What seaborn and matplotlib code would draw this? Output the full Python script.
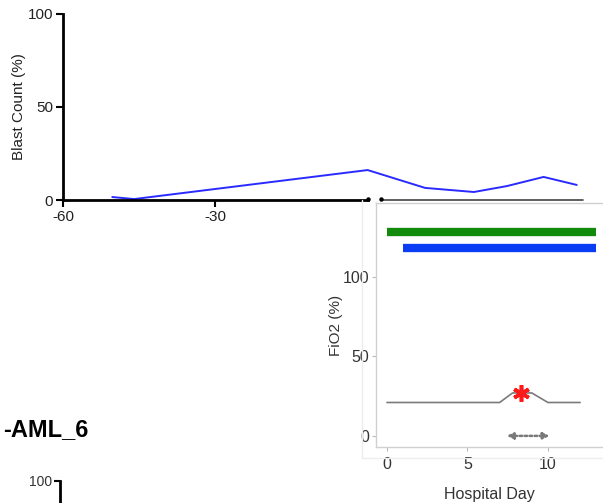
import numpy as np
import pandas as pd
import matplotlib
matplotlib.use("Agg")
import matplotlib.pyplot as plt
from matplotlib.lines import Line2D
import seaborn as sns

# blast count, days relative to admission (pre-admission compressed on left)
blast_day = [-50.3, -46, 0, 3.3, 6.1, 8, 10.1, 12]
blast_pct = [1.6, 0.5, 16.1, 6.5, 4.3, 7.5, 12.4, 8.1]

# FiO2 over hospital days
fio2_day = [0, 7, 7.8, 9, 10, 12]
fio2_pct = [21, 21, 27, 27, 21, 21]

# treatment bars (start, end, level)
green_bar = (0, 13, 128.5)
blue_bar = (1, 13, 118)

event_day, event_val = 8.3, 27
arrow_span = (7.45, 10.1)

sns.set_theme(style="white")
plt.rcParams["font.family"] = ["Liberation Sans", "DejaVu Sans"]

W, H = 603, 503
fig = plt.figure(figsize=(W / 100, H / 100), dpi=100)

def box(x0, y0, x1, y1):
    # pixel box -> figure fraction
    return [x0 / W, (H - y1) / H, (x1 - x0) / W, (y1 - y0) / H]

# ---- top: blast count with broken x scale ----
k = 17.4 / 5.07
fwd = lambda x: np.where(x <= 0, x, x * k)
inv = lambda u: np.where(u <= 0, u, u / k)

ax1 = fig.add_axes(box(63, 14, 583, 200))
df1 = pd.DataFrame({"day": blast_day, "blast": blast_pct})
sns.lineplot(data=df1, x="day", y="blast", ax=ax1, color="#2a2aff", lw=1.4)
ax1.set_xscale("function", functions=(fwd, inv))
ax1.set_xlim(-60, 12.36)
ax1.set_ylim(0, 100)
ax1.set_xticks([-60, -30])
ax1.set_xticklabels(["-60", "-30"])
ax1.set_yticks([0, 50, 100])
for s in ["top", "right"]:
    ax1.spines[s].set_visible(False)
ax1.spines["left"].set_linewidth(2)
ax1.spines["left"].set_color("black")
ax1.spines["bottom"].set_linewidth(2)
ax1.spines["bottom"].set_color("black")
ax1.spines["bottom"].set_bounds(-60, 0)
ax1.plot([0.75, 12.36], [0, 0], color="#444444", lw=1.2, clip_on=False)
ax1.plot([0, 0.75], [0.5, 0.5], "o", color="black", ms=2.2, clip_on=False)
ax1.tick_params(axis="both", direction="out", length=5, width=1.5, color="black",
                labelsize=11, labelcolor="#222222", pad=2, left=True, bottom=True)
ax1.set_xlabel("")
ax1.set_ylabel("Blast Count (%)", fontsize=11, color="#222222", labelpad=1.5)

# ---- lower right: FiO2 panel ----
ax2 = fig.add_axes(box(376, 203, 603, 447))
df2 = pd.DataFrame({"day": fio2_day, "fio2": fio2_pct})
sns.lineplot(data=df2, x="day", y="fio2", ax=ax2, color="#7a7a7a", lw=1.2)
ax2.hlines(green_bar[2], green_bar[0], green_bar[1], color="#128a0c", lw=6)
ax2.hlines(blue_bar[2], blue_bar[0], blue_bar[1], color="#0a3cf5", lw=6)
ax2.plot([event_day], [event_val], marker=(6, 2, 0), color="#ff1a1a",
         ms=12, mew=2.6, ls="none")
ax2.annotate("", xy=(arrow_span[1], 0), xytext=(arrow_span[0], 0),
             arrowprops=dict(arrowstyle="<|-|>", color="#7a7a7a", lw=1.8,
                             ls=(0, (1, 1)), mutation_scale=9,
                             shrinkA=0, shrinkB=0))
ax2.set_xlim(-0.68, 13.42)
ax2.set_ylim(-7, 146.5)
ax2.set_xticks([0, 5, 10])
ax2.set_yticks([0, 50, 100])
ax2.spines["right"].set_visible(False)
for s in ["left", "top", "bottom"]:
    ax2.spines[s].set_color("#d0d0d0")
    ax2.spines[s].set_linewidth(1)
ax2.tick_params(axis="both", direction="out", length=3, width=0.8, color="#bbbbbb",
                labelsize=11.5, labelcolor="#333333", pad=2, left=True, bottom=True)
ax2.tick_params(axis="x", pad=4)
ax2.set_xlabel("Hospital Day", fontsize=11.5, color="#333333", labelpad=11)
ax2.set_ylabel("FiO2 (%)", fontsize=11, color="#333333")
ax2.yaxis.set_label_coords(-0.145, 0.5)

# faint panel frame
fig.add_artist(Line2D([362 / W, 362 / W], [(H - 200) / H, (H - 458) / H],
                      color="#eeeeee", lw=1))
fig.add_artist(Line2D([362 / W, 1], [(H - 458) / H, (H - 458) / H],
                      color="#eeeeee", lw=1))

# ---- lower left: cut-off next panel ----
fig.text(89 / W, (H - 430) / H, "-AML_6", ha="right", va="center",
         fontsize=17, fontweight="bold", color="black")
ax3 = fig.add_axes(box(60, 481, 300, 620))
ax3.set_ylim(0, 100)
ax3.set_yticks([100])
ax3.set_xticks([])
for s in ["top", "right", "bottom"]:
    ax3.spines[s].set_visible(False)
ax3.spines["left"].set_linewidth(2)
ax3.spines["left"].set_color("black")
ax3.tick_params(axis="y", direction="out", length=4, width=1.5, color="black",
                labelsize=10, labelcolor="#333333", pad=2, left=True)
ax3.patch.set_alpha(0)

fig.savefig("out.png", dpi=100)
